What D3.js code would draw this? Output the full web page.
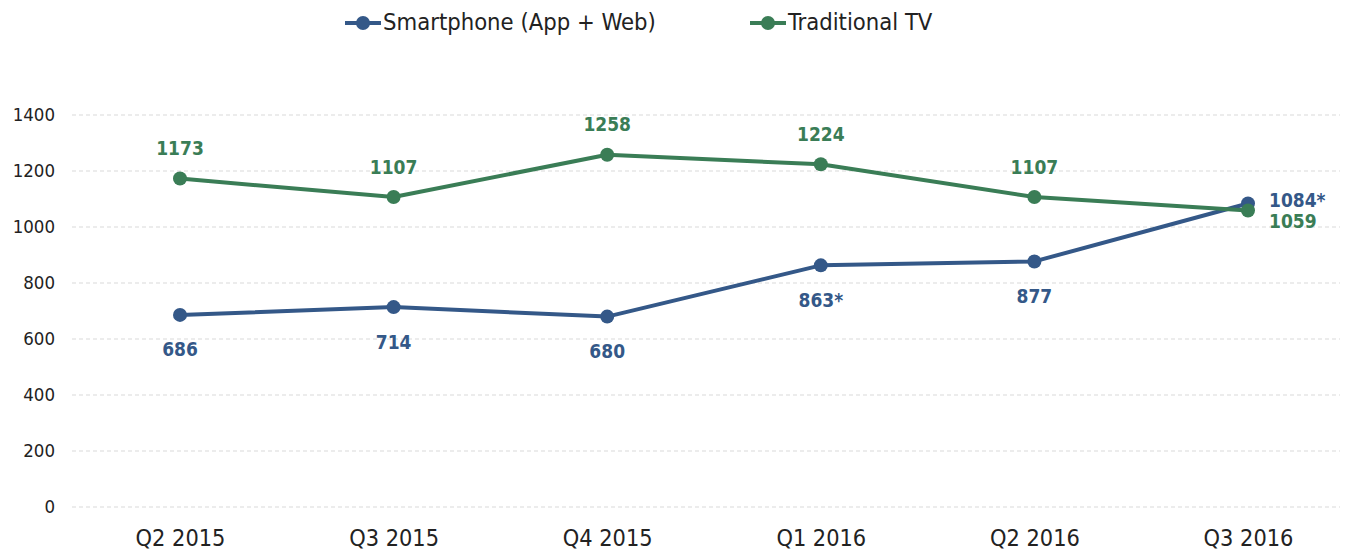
<!DOCTYPE html>
<html><head><meta charset="utf-8">
<script src="https://cdn.jsdelivr.net/npm/d3@7"></script>
<style>body{margin:0;background:#fff}svg{display:block}text{font-family:"DejaVu Sans Condensed","DejaVu Sans",sans-serif}</style>
</head><body>
<svg id="c" width="1345" height="553"></svg>
<script>
const categories = ["Q2 2015","Q3 2015","Q4 2015","Q1 2016","Q2 2016","Q3 2016"];
const smartphone = [686, 714, 680, 863, 877, 1084];
const smartphoneLabels = ["686","714","680","863*","877","1084*"];
const tv = [1173, 1107, 1258, 1224, 1107, 1059];
const tvLabels = ["1173","1107","1258","1224","1107","1059"];
const yTicks = [0,200,400,600,800,1000,1200,1400];
const seriesNames = ["Smartphone (App + Web)","Traditional TV"];
const colors = ["#345888","#3a7d56"];

const svg = d3.select("#c");
const x = d3.scalePoint().domain(categories).range([180, 1248]);
const y = d3.scaleLinear().domain([0,1400]).range([507,115]);
const gridX0 = 72, gridX1 = 1340;

// grid
svg.append("g").selectAll("line").data(yTicks).join("line")
  .attr("x1",gridX0).attr("x2",gridX1)
  .attr("y1",d=>y(d)).attr("y2",d=>y(d))
  .attr("stroke","#d9d9d9").attr("stroke-width",1.2).attr("stroke-dasharray","4,3");

// y axis
const yAxis = d3.axisLeft(y).tickValues(yTicks).tickFormat(d3.format("d")).tickSize(0).tickPadding(0);
const gy = svg.append("g").attr("transform","translate(55,0)").call(yAxis);
gy.select(".domain").remove();
gy.selectAll("text").attr("font-size",18.5).attr("fill","#222").attr("font-family","DejaVu Sans Condensed");

// x axis
const xAxis = d3.axisBottom(x).tickSize(0).tickPadding(0);
const gx = svg.append("g").attr("transform","translate(0,529)").call(xAxis);
gx.select(".domain").remove();
gx.selectAll("text").attr("font-size",23.3).attr("fill","#222").attr("dy","0.75em").attr("font-family","DejaVu Sans Condensed");

const line = d3.line().x((d,i)=>x(categories[i])).y(d=>y(d));
const series = [smartphone, tv];
series.forEach((s,k)=>{
  svg.append("path").datum(s).attr("d",line).attr("fill","none")
    .attr("stroke",colors[k]).attr("stroke-width",4).attr("stroke-linejoin","round");
  svg.append("g").selectAll("circle").data(s).join("circle")
    .attr("cx",(d,i)=>x(categories[i])).attr("cy",d=>y(d)).attr("r",7).attr("fill",colors[k]);
});

// data labels
const lblFont = 19;
svg.append("g").selectAll("text").data(smartphone).join("text")
  .attr("x",(d,i)=> i===5 ? x(categories[i])+21 : x(categories[i]))
  .attr("y",(d,i)=> i===5 ? y(d)-2 : y(d)+36)
  .attr("text-anchor",(d,i)=> i===5 ? "start":"middle")
  .attr("dominant-baseline","middle")
  .attr("font-size",lblFont).attr("font-weight","bold").attr("fill",colors[0])
  .text((d,i)=>smartphoneLabels[i]);
svg.append("g").selectAll("text").data(tv).join("text")
  .attr("x",(d,i)=> i===5 ? x(categories[i])+21 : x(categories[i]))
  .attr("y",(d,i)=> i===5 ? y(d)+12 : y(d)-29)
  .attr("text-anchor",(d,i)=> i===5 ? "start":"middle")
  .attr("dominant-baseline","middle")
  .attr("font-size",lblFont).attr("font-weight","bold").attr("fill",colors[1])
  .text((d,i)=>tvLabels[i]);

// legend
const legX = [345, 750];
seriesNames.forEach((n,k)=>{
  const g = svg.append("g").attr("transform",`translate(${legX[k]},23)`);
  g.append("line").attr("x1",0).attr("x2",36).attr("y1",0).attr("y2",0).attr("stroke",colors[k]).attr("stroke-width",4);
  g.append("circle").attr("cx",18).attr("cy",0).attr("r",7).attr("fill",colors[k]);
  g.append("text").attr("x",38).attr("y",0).attr("dominant-baseline","middle")
    .attr("font-size",23.6).attr("fill","#222").text(n);
});
</script>
</body></html>
